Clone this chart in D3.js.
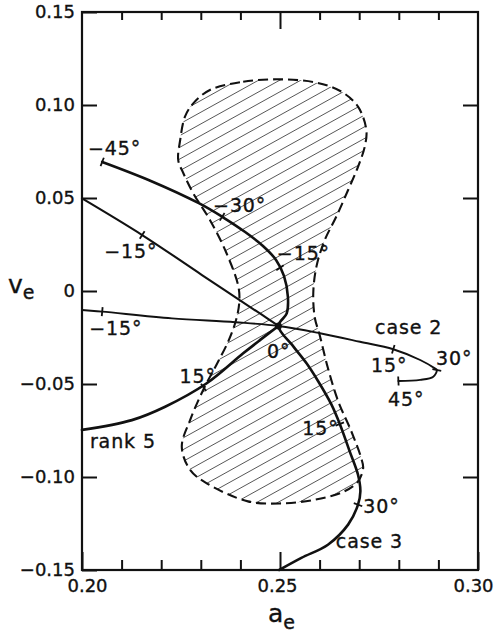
<!DOCTYPE html>
<meta charset="utf-8">
<title>Stability region</title>
<style>
body { margin: 0; background: #fff; }
text { font-family: "DejaVu Sans", sans-serif; font-size: 18px; fill: #111; stroke: #111; stroke-width: 0.35; }
.curve { fill: none; stroke: #111; stroke-linejoin: round; stroke-linecap: round; }
</style>
<svg width="498" height="637"></svg>
<script src="https://d3js.org/d3.v7.min.js"></script>
<script>

// axis ticks
var xMajor = [0.20, 0.25, 0.30],
    xMinor = [0.21, 0.22, 0.23, 0.24, 0.26, 0.27, 0.28, 0.29],
    yTicks = [0.15, 0.10, 0.05, 0, -0.05, -0.10, -0.15],
    yInner = [0.10, 0.05, 0, -0.05, -0.10];

// dashed boundary of the hatched region
var region = [
  [0.2323, 0.1081], [0.2407, 0.1125], [0.2500, 0.1138], [0.2593, 0.1120],
  [0.2655, 0.1072], [0.2697, 0.0991], [0.2718, 0.0866], [0.2714, 0.0776],
  [0.2697, 0.0668], [0.2672, 0.0543], [0.2642, 0.0399], [0.2613, 0.0274],
  [0.2592, 0.0131], [0.2584, -0.0012], [0.2588, -0.0145], [0.2600, -0.0235],
  [0.2621, -0.0414], [0.2647, -0.0593], [0.2680, -0.0754], [0.2705, -0.0898],
  [0.2710, -0.0952], [0.2697, -0.1023], [0.2663, -0.1077], [0.2588, -0.1122],
  [0.2503, -0.1142], [0.2419, -0.1131], [0.2315, -0.1034], [0.2273, -0.0962],
  [0.2252, -0.0837], [0.2273, -0.0694], [0.2306, -0.0532], [0.2337, -0.0407],
  [0.2371, -0.0263], [0.2389, -0.0156], [0.2397, -0.0065], [0.2395, 0.0023],
  [0.2365, 0.0203], [0.2323, 0.0382], [0.2281, 0.0525], [0.2256, 0.0633],
  [0.2243, 0.0704], [0.2248, 0.0812], [0.2260, 0.0937], [0.2281, 0.1009]
];

// case 3 : from -45 deg to the bottom axis
var case3 = [
  [0.2051, 0.0694], [0.2168, 0.0597], [0.2295, 0.0472], [0.2354, 0.0399],
  [0.2412, 0.0317], [0.2457, 0.0242], [0.2490, 0.0167], [0.2510, 0.0081],
  [0.2520, -0.0032], [0.2517, -0.0120], [0.2496, -0.0188], [0.2534, -0.0299],
  [0.2567, -0.0389], [0.2596, -0.0484], [0.2630, -0.0611], [0.2651, -0.0715],
  [0.2676, -0.0862], [0.2697, -0.0988], [0.2703, -0.1077], [0.2697, -0.1149],
  [0.2672, -0.1256], [0.2621, -0.1364], [0.2554, -0.1435], [0.2498, -0.1500]
];

// rank 5 : two branches meeting at the 0 deg point
var rank5Upper = [
  [0.2000, 0.0498], [0.2152, 0.0301], [0.2303, 0.0086], [0.2455, -0.0129], [0.2496, -0.0188]
];
var rank5Lower = [
  [0.2496, -0.0188], [0.2450, -0.0263], [0.2407, -0.0335], [0.2315, -0.0496],
  [0.2210, -0.0622], [0.2126, -0.0694], [0.2000, -0.0747]
];

// case 2
var case2 = [
  [0.2000, -0.0102], [0.2051, -0.0111], [0.2227, -0.0147], [0.2387, -0.0168],
  [0.2496, -0.0188], [0.2601, -0.0227], [0.2702, -0.0273], [0.2786, -0.0313],
  [0.2854, -0.0371], [0.2891, -0.0416], [0.2896, -0.0425], [0.2887, -0.0461],
  [0.2854, -0.0478], [0.2799, -0.0484]
];

var center = [0.2496, -0.0188];

// angle marks on the curves
var case3Marks = [[0.2051, 0.0694], [0.2354, 0.0399], [0.2500, 0.0125], [0.2651, -0.0715], [0.2697, -0.1149]],
    rank5Marks = [[0.2152, 0.0301], [0.2307, -0.0518]],
    case2Marks = [[0.2051, -0.0111], [0.2786, -0.0313], [0.2896, -0.0425], [0.2799, -0.0484]];

// text labels: [text, x, baseline y]
var labels = [
  ["\u221245\u00b0", 0.2015, 0.0731],
  ["\u221230\u00b0", 0.2331, 0.0425],
  ["\u221215\u00b0", 0.2492, 0.0167],
  ["0\u00b0", 0.2467, -0.0360],
  ["15\u00b0", 0.2556, -0.0774],
  ["30\u00b0", 0.2710, -0.1194],
  ["case 3", 0.2641, -0.1382],
  ["\u221215\u00b0", 0.2056, 0.0177],
  ["15\u00b0", 0.2246, -0.0495],
  ["rank 5", 0.2020, -0.0844],
  ["\u221215\u00b0", 0.2018, -0.0237],
  ["15\u00b0", 0.2730, -0.0436],
  ["30\u00b0", 0.2894, -0.0398],
  ["45\u00b0", 0.2773, -0.0618],
  ["case 2", 0.2740, -0.0231]
];

var svg = d3.select("svg");

var x = d3.scaleLinear().domain([0.20, 0.30]).range([82, 478]);
var y = d3.scaleLinear().domain([-0.15, 0.15]).range([570, 12]);

var line = d3.line()
    .x(function(d) { return x(d[0]); })
    .y(function(d) { return y(d[1]); })
    .curve(d3.curveCatmullRom.alpha(0.5));

var loop = d3.line()
    .x(function(d) { return x(d[0]); })
    .y(function(d) { return y(d[1]); })
    .curve(d3.curveCatmullRomClosed.alpha(0.5));

// hatching clipped to the region
svg.append("clipPath").attr("id", "reg")
  .append("path").attr("d", loop(region));

var slope = Math.tan(29 * Math.PI / 180);
svg.append("g").attr("clip-path", "url(#reg)")
  .selectAll("line")
  .data(d3.range(-40, 80))
  .enter().append("line")
    .attr("x1", 150).attr("x2", 400)
    .attr("y1", function(k) { return k * 11.7; })
    .attr("y2", function(k) { return k * 11.7 - slope * 250; })
    .attr("stroke", "#444")
    .attr("stroke-width", 0.9);

svg.append("path")
    .attr("d", loop(region))
    .attr("fill", "none")
    .attr("stroke", "#111")
    .attr("stroke-width", 2.1)
    .attr("stroke-dasharray", "10,5");

// curves
svg.append("path").attr("class", "curve").attr("d", line(case3)).attr("stroke-width", 2.6);
svg.append("path").attr("class", "curve").attr("d", line(rank5Upper)).attr("stroke-width", 2.1);
svg.append("path").attr("class", "curve").attr("d", line(rank5Lower)).attr("stroke-width", 2.7);
svg.append("path").attr("class", "curve").attr("d", line(case2)).attr("stroke-width", 1.9);

function marks(pts, ms) {
  var p = pts.map(function(d) { return [x(d[0]), y(d[1])]; });
  ms.forEach(function(m) {
    var mx = x(m[0]), my = y(m[1]);
    var i = d3.minIndex(p, function(q) { return (q[0] - mx) * (q[0] - mx) + (q[1] - my) * (q[1] - my); });
    var a = p[Math.max(i - 1, 0)], b = p[Math.min(i + 1, p.length - 1)];
    var dx = b[0] - a[0], dy = b[1] - a[1], len = Math.sqrt(dx * dx + dy * dy);
    var nx = -dy / len * 4.5, ny = dx / len * 4.5;
    svg.append("line")
        .attr("x1", mx - nx).attr("y1", my - ny)
        .attr("x2", mx + nx).attr("y2", my + ny)
        .attr("stroke", "#111").attr("stroke-width", 1.8);
  });
}
marks(case3, case3Marks);
marks(rank5Upper.concat(rank5Lower.slice(1)), rank5Marks);
marks(case2, case2Marks);

svg.append("circle")
    .attr("cx", x(center[0])).attr("cy", y(center[1]))
    .attr("r", 3.5).attr("fill", "#111");

svg.selectAll("text.lab")
  .data(labels)
  .enter().append("text")
    .attr("class", "lab")
    .attr("x", function(d) { return x(d[1]); })
    .attr("y", function(d) { return y(d[2]); })
    .attr("letter-spacing", 0.9)
    .style("font-size", "19px")
    .text(function(d) { return d[0]; });

// axes
var fmt = function(d) { return d === 0 ? "0" : d3.format(".2f")(d); };

function clean(g) {
  g.select(".domain").remove();
  g.selectAll("line").attr("stroke", "#111").attr("stroke-width", 2);
  g.selectAll("text").attr("font-family", null).attr("font-size", null).attr("fill", "#111");
}

svg.append("g").attr("transform", "translate(82,0)")
    .call(d3.axisLeft(y).tickValues(yTicks).tickSize(-15).tickSizeOuter(0).tickPadding(7).tickFormat(fmt))
    .call(clean);

svg.append("g").attr("transform", "translate(478,0)")
    .call(d3.axisRight(y).tickValues(yInner).tickSize(-15).tickSizeOuter(0).tickFormat(""))
    .call(clean);

var bottom = svg.append("g").attr("transform", "translate(0,570)")
    .call(d3.axisBottom(x).tickValues(xMajor).tickSize(-18).tickSizeOuter(0).tickPadding(9).tickFormat(d3.format(".2f")))
    .call(clean);
bottom.selectAll("text").attr("dx", function(d, i) { return [5, -3, -5][i]; });

svg.append("g").attr("transform", "translate(0,570)")
    .call(d3.axisBottom(x).tickValues(xMinor).tickSize(-10).tickSizeOuter(0).tickFormat(""))
    .call(clean);

svg.append("g").attr("transform", "translate(0,12)")
    .call(d3.axisTop(x).tickValues(xMinor).tickSize(-8).tickSizeOuter(0).tickFormat(""))
    .call(clean);
svg.append("g").attr("transform", "translate(0,12)")
    .call(d3.axisTop(x).tickValues([0.25]).tickSize(-17).tickSizeOuter(0).tickFormat(""))
    .call(clean);

svg.append("rect")
    .attr("x", 82).attr("y", 12)
    .attr("width", 396).attr("height", 558)
    .attr("fill", "none").attr("stroke", "#111").attr("stroke-width", 2.2);

// axis titles
var vt = svg.append("text").attr("x", 8).attr("y", 293).style("font-size", "25px");
vt.append("tspan").text("v");
vt.append("tspan").attr("dy", 6).style("font-size", "19px").text("e");

var at = svg.append("text").attr("x", 268).attr("y", 622).style("font-size", "25px");
at.append("tspan").text("a");
at.append("tspan").attr("dy", 7).style("font-size", "19px").text("e");

</script>
